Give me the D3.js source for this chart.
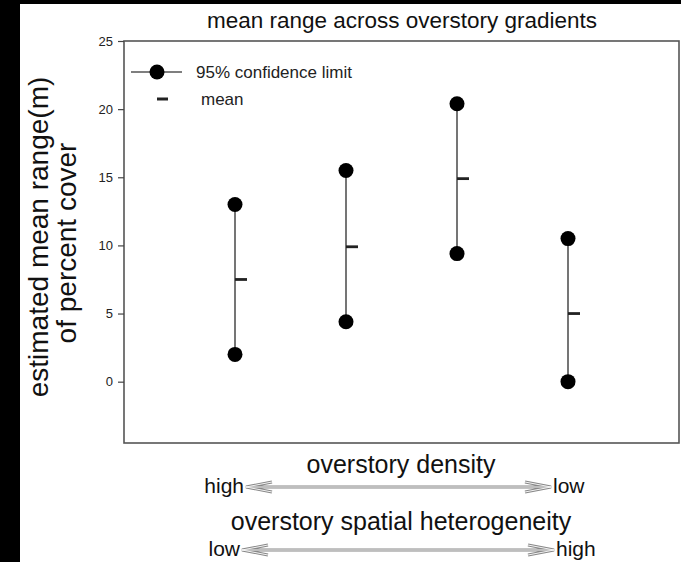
<!DOCTYPE html>
<html>
<head>
<meta charset="utf-8">
<script src="https://cdn.jsdelivr.net/npm/d3@7"></script>
<style>
	body { margin: 0; background: #000; }
	svg { display: block; }
</style>
</head>
<body>
<div id="content"></div>
<script>
// data
var groups = [1, 2, 3, 4];
var upperLimit = [13.0, 15.5, 20.4, 10.5];
var lowerLimit = [2.0, 4.4, 9.4, 0.0];
var meanRange = [7.5, 9.9, 14.9, 5.0];
var yTicks = [0, 5, 10, 15, 20, 25];

var W = 681, H = 562;
var font = 'Liberation Sans, Arial, sans-serif';

var svg = d3.select('#content').append('svg').attr('width', W).attr('height', H);

// black strips round the scanned figure
svg.append('rect').attr('width', W).attr('height', H).attr('fill', '#000');
svg.append('rect').attr('x', 20).attr('y', 4).attr('width', W - 20).attr('height', H - 4).attr('fill', '#fff');

var plot = {left: 124, right: 679, top: 41, bottom: 443};

var x = d3.scaleLinear().domain([0, 5]).range([plot.left, plot.right]);
var y = d3.scaleLinear().domain([-4.5, 25]).range([plot.bottom, plot.top]);

// frame
svg.append('rect')
	.attr('x', plot.left).attr('y', plot.top)
	.attr('width', plot.right - plot.left).attr('height', plot.bottom - plot.top)
	.attr('fill', 'none').attr('stroke', '#555').attr('stroke-width', 1.6);

// y axis
var yAxis = svg.append('g')
	.attr('transform', 'translate(' + plot.left + ',0)')
	.call(d3.axisLeft(y).tickValues(yTicks).tickSize(6).tickPadding(5));
yAxis.select('.domain').remove();
yAxis.selectAll('line').attr('stroke', '#444').attr('stroke-width', 1.2);
yAxis.selectAll('text').attr('font-family', font).attr('font-size', 13).attr('fill', '#222');

// confidence intervals
var idx = d3.range(groups.length);
svg.append('g').selectAll('line').data(idx).enter().append('line')
	.attr('x1', i => x(groups[i])).attr('x2', i => x(groups[i]))
	.attr('y1', i => y(upperLimit[i])).attr('y2', i => y(lowerLimit[i]))
	.attr('stroke', '#666').attr('stroke-width', 1.8);

svg.append('g').selectAll('line').data(idx).enter().append('line')
	.attr('x1', i => x(groups[i])).attr('x2', i => x(groups[i]) + 12)
	.attr('y1', i => y(meanRange[i])).attr('y2', i => y(meanRange[i]))
	.attr('stroke', '#222').attr('stroke-width', 2.8);

var ends = [];
idx.forEach(i => { ends.push({g: groups[i], v: upperLimit[i]}); ends.push({g: groups[i], v: lowerLimit[i]}); });
svg.append('g').selectAll('circle').data(ends).enter().append('circle')
	.attr('cx', d => x(d.g)).attr('cy', d => y(d.v)).attr('r', 7.5).attr('fill', '#000');

// legend
var lg = svg.append('g').attr('font-family', font).attr('font-size', 17).attr('fill', '#222');
lg.append('line').attr('x1', 131).attr('x2', 182).attr('y1', 72).attr('y2', 72).attr('stroke', '#555').attr('stroke-width', 1.5);
lg.append('circle').attr('cx', 157).attr('cy', 72).attr('r', 7.5).attr('fill', '#000');
lg.append('text').attr('x', 196).attr('y', 78).text('95% confidence limit');
lg.append('line').attr('x1', 157).attr('x2', 168).attr('y1', 99).attr('y2', 99).attr('stroke', '#222').attr('stroke-width', 3);
lg.append('text').attr('x', 201).attr('y', 105).text('mean');

// title
svg.append('text').attr('x', 402).attr('y', 28).attr('text-anchor', 'middle')
	.attr('font-family', font).attr('font-size', 22.5).attr('fill', '#111')
	.text('mean range across overstory gradients');

// y label
var yl = svg.append('text').attr('transform', 'translate(48,237) rotate(-90)')
	.attr('text-anchor', 'middle').attr('font-family', font).attr('font-size', 28).attr('fill', '#111');
yl.append('tspan').attr('x', 0).attr('y', 0).text('estimated mean range(m)');
yl.append('tspan').attr('x', -6).attr('y', 28).text('of percent cover');

// gradient arrows under the plot
function arrow(x1, x2, yy)
{
	var g = svg.append('g');
	var p = 'M' + x1 + ',' + yy + 'H' + x2 +
		'M' + (x1 + 26) + ',' + (yy - 5) + 'L' + x1 + ',' + yy + 'L' + (x1 + 26) + ',' + (yy + 5) +
		'M' + (x2 - 26) + ',' + (yy - 5) + 'L' + x2 + ',' + yy + 'L' + (x2 - 26) + ',' + (yy + 5);
	g.append('path').attr('d', p).attr('fill', 'none').attr('stroke', '#888').attr('stroke-width', 3);
	g.append('path').attr('d', p).attr('fill', 'none').attr('stroke', '#f4f4f4').attr('stroke-width', 1);
}

var ann = svg.append('g').attr('font-family', font).attr('fill', '#111');
ann.append('text').attr('x', 401).attr('y', 473).attr('text-anchor', 'middle').attr('font-size', 25).text('overstory density');
ann.append('text').attr('x', 244).attr('y', 493).attr('text-anchor', 'end').attr('font-size', 21).text('high');
ann.append('text').attr('x', 553).attr('y', 493).attr('font-size', 21).text('low');
arrow(246, 551, 487);

ann.append('text').attr('x', 401).attr('y', 530).attr('text-anchor', 'middle').attr('font-size', 25).text('overstory spatial heterogeneity');
ann.append('text').attr('x', 240).attr('y', 556).attr('text-anchor', 'end').attr('font-size', 21).text('low');
ann.append('text').attr('x', 556).attr('y', 556).attr('font-size', 21).text('high');
arrow(242, 554, 550);
</script>
</body>
</html>
